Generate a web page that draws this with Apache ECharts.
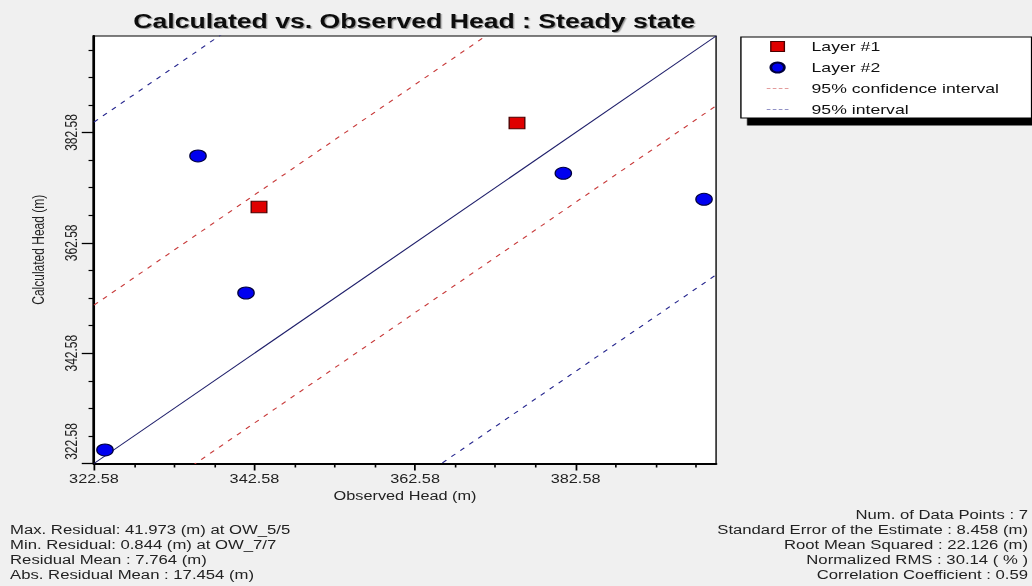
<!DOCTYPE html>
<html>
<head>
<meta charset="utf-8">
<script src="https://cdn.jsdelivr.net/npm/echarts@6/dist/echarts.min.js"></script>
<style>
  html, body { margin: 0; padding: 0; background: #f0f0f0; overflow: hidden; }
  #wrap { width: 1032px; height: 586px; overflow: hidden; }
  #chart { width: 760px; height: 586px; transform: scaleX(1.358); transform-origin: 0 0; }
</style>
</head>
<body>
<div id="wrap"><div id="chart"></div></div>
<script>
// ---- data ----
const AXIS_MIN = 322.58;
const AXIS_MAX = 400.08;
const MAJOR_TICKS = [322.58, 342.58, 362.58, 382.58];
const MINOR_TICKS = [327.58, 332.58, 337.58, 347.58, 352.58, 357.58, 367.58, 372.58, 377.58, 387.58, 392.58, 397.58];

const layer1Observed   = [343.14, 375.28];
const layer1Calculated = [369.08, 384.31];
const layer2Observed   = [323.95, 335.54, 341.52, 381.05, 398.58];
const layer2Calculated = [325.03, 378.33, 353.49, 375.19, 370.48];

// offsets (calculated - observed) of the interval lines
const confidenceOffsets = [28.7, -12.65];
const intervalOffsets   = [61.9, -43.3];

const leftStats = [
  'Max. Residual: 41.973 (m) at OW_5/5',
  'Min. Residual: 0.844 (m) at OW_7/7',
  'Residual Mean : 7.764 (m)',
  'Abs. Residual Mean : 17.454 (m)'
];
const rightStats = [
  'Num. of Data Points : 7',
  'Standard Error of the Estimate : 8.458 (m)',
  'Root Mean Squared : 22.126 (m)',
  'Normalized RMS : 30.14 ( % )',
  'Correlation Coefficient : 0.59'
];

// ---- build ----
const FONT = "'Liberation Sans', Arial, sans-serif";
const pairs = (xs, ys) => xs.map((x, i) => [x, ys[i]]);
const offsetLine = c => [[AXIS_MIN, AXIS_MIN + c], [AXIS_MAX, AXIS_MAX + c]];
const DASH_ICON = 'path://M0,0H4V1H0Z M6.5,0H10.5V1H6.5Z M13,0H17V1H13Z M19.5,0H23.5V1H19.5Z';

function valueAxis(isX) {
  const common = {
    type: 'value', min: AXIS_MIN, max: AXIS_MAX, splitLine: { show: false }
  };
  const main = Object.assign({}, common, {
    position: isX ? 'bottom' : 'left',
    axisLine: { onZero: false, lineStyle: { color: '#000', width: 2 } },
    axisTick: { customValues: MAJOR_TICKS, length: isX ? 7 : 9, lineStyle: { color: '#000', width: 1.3 } },
    axisLabel: {
      customValues: MAJOR_TICKS,
      formatter: v => {
        const s = Number(v).toFixed(2);
        return (!isX && Math.abs(v - AXIS_MIN) < 1e-6) ? '{low|' + s + '}' : s;
      },
      rich: { low: { padding: [0, 0, 0, 44], fontSize: 12, fontFamily: FONT, color: '#222' } },
      color: '#222', fontSize: 12, fontFamily: FONT,
      margin: isX ? 9 : 11,
      rotate: isX ? 0 : 90
    },
    name: isX ? 'Observed Head (m)' : 'Calculated Head (m)',
    nameLocation: 'middle',
    nameGap: isX ? 23 : 35,
    nameTextStyle: { color: '#222', fontSize: 12, fontFamily: FONT }
  });
  const minor = Object.assign({}, common, {
    position: isX ? 'bottom' : 'left',
    offset: 0,
    axisLine: { show: false, onZero: false },
    axisLabel: { show: false },
    axisTick: { customValues: MINOR_TICKS, length: 4, lineStyle: { color: '#000', width: 1.2 } }
  });
  return [main, minor];
}

const chart = echarts.init(document.getElementById('chart'), null, { renderer: 'svg' });

const dashRed = { color: '#c83a3a', width: 1, type: [4, 5] };
const dashBlue = { color: '#26268e', width: 1, type: [4, 5] };

const statsGraphics = [];
leftStats.forEach((t, i) => statsGraphics.push({
  type: 'text', x: 7.4, y: 524 + 15 * i,
  style: { text: t, font: '12.3px ' + FONT, fill: '#222', align: 'left', verticalAlign: 'top' }
}));
rightStats.forEach((t, i) => statsGraphics.push({
  type: 'text', x: 757, y: 509 + 15 * i,
  style: { text: t, font: '12.3px ' + FONT, fill: '#222', align: 'right', verticalAlign: 'top' }
}));

chart.setOption({
  animation: false,
  backgroundColor: '#f0f0f0',
  title: {
    text: 'Calculated vs. Observed Head : Steady state',
    left: 300, top: 6, textAlign: 'center',
    textStyle: {
      fontSize: 19.6, fontWeight: 'bold', color: '#111', fontFamily: FONT,
      textShadowColor: 'rgba(0,0,0,0.35)', textShadowBlur: 1, textShadowOffsetX: 1, textShadowOffsetY: 1
    }
  },
  grid: {
    left: 69.2, right: 232.7, top: 36, bottom: 122.5,
    show: true, backgroundColor: '#ffffff', borderColor: '#000', borderWidth: 1
  },
  xAxis: valueAxis(true),
  yAxis: valueAxis(false),
  legend: {
    data: [
      { name: 'Layer #1', icon: 'path://M0,0H10V10H0Z', itemStyle: { color: '#e00000', borderColor: '#4a0000', borderWidth: 1 } },
      { name: 'Layer #2', icon: 'circle' },
      { name: '95% confidence interval', icon: DASH_ICON, itemStyle: { color: '#c83a3a', borderWidth: 0 } },
      { name: '95% interval', icon: DASH_ICON, itemStyle: { color: '#26268e', borderWidth: 0 } }
    ],
    orient: 'vertical',
    left: 545.6, top: 37,
    itemWidth: 16, itemHeight: 10, itemGap: 8,
    padding: [3, 24, 2, 19],
    backgroundColor: '#fff', borderColor: '#000', borderWidth: 1, borderRadius: 0,
    shadowColor: '#000', shadowBlur: 0, shadowOffsetX: 5, shadowOffsetY: 7,
    textStyle: { fontSize: 13, lineHeight: 12, color: '#111', fontFamily: FONT, padding: [0, 0, 0, 12] },
    selectedMode: false
  },
  graphic: statsGraphics,
  series: [
    {
      name: 'Line 1:1', type: 'line', symbol: 'none', silent: true, clip: true,
      data: [[AXIS_MIN, AXIS_MIN], [AXIS_MAX, AXIS_MAX]],
      lineStyle: { color: '#1e1e6a', width: 1 }, z: 2
    },
    {
      name: '95% confidence interval', type: 'line', symbol: 'none', silent: true, clip: true,
      data: offsetLine(confidenceOffsets[0]), lineStyle: dashRed, itemStyle: { color: dashRed.color }, z: 2
    },
    {
      name: '95% confidence interval', type: 'line', symbol: 'none', silent: true, clip: true,
      data: offsetLine(confidenceOffsets[1]), lineStyle: dashRed, itemStyle: { color: dashRed.color }, z: 2
    },
    {
      name: '95% interval', type: 'line', symbol: 'none', silent: true, clip: true,
      data: offsetLine(intervalOffsets[0]), lineStyle: dashBlue, itemStyle: { color: dashBlue.color }, z: 2
    },
    {
      name: '95% interval', type: 'line', symbol: 'none', silent: true, clip: true,
      data: offsetLine(intervalOffsets[1]), lineStyle: dashBlue, itemStyle: { color: dashBlue.color }, z: 2
    },
    {
      name: 'Layer #1', type: 'scatter', symbol: 'rect', symbolSize: 11.5, clip: false,
      data: pairs(layer1Observed, layer1Calculated),
      itemStyle: { color: '#e00000', borderColor: '#4a0000', borderWidth: 1, opacity: 1 }, z: 5
    },
    {
      name: 'Layer #2', type: 'scatter', symbol: 'circle', symbolSize: 12, clip: false,
      data: pairs(layer2Observed, layer2Calculated),
      itemStyle: { color: '#0000f0', borderColor: '#00003c', borderWidth: 1, opacity: 1 }, z: 5
    }
  ]
});
</script>
</body>
</html>
